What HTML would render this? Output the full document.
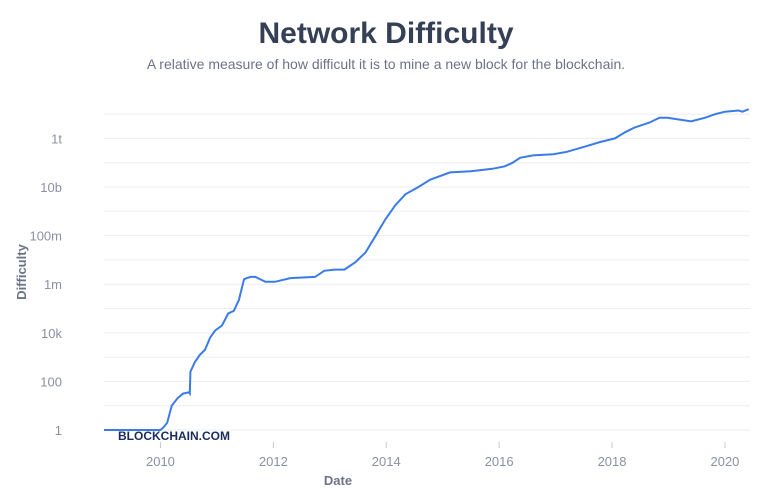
<!DOCTYPE html>
<html><head><meta charset="utf-8"><style>
body{margin:0;background:#fff;width:775px;height:489px;overflow:hidden;font-family:"Liberation Sans",sans-serif}
</style></head><body>
<svg width="775" height="489">
<text x="386" y="43" text-anchor="middle" font-size="30" font-weight="bold" fill="#353f55">Network Difficulty</text>
<text x="386" y="69" text-anchor="middle" font-size="14" fill="#6b7388">A relative measure of how difficult it is to mine a new block for the blockchain.</text>
<g id="grid"></g>
<g id="yt"></g>
<g id="xt"></g>
<text transform="translate(26,272) rotate(-90)" text-anchor="middle" font-size="13" font-weight="bold" fill="#6b7388">Difficulty</text>
<text x="338" y="485" text-anchor="middle" font-size="13" font-weight="bold" fill="#6b7388">Date</text>
<path id="line" fill="none" stroke="#3b7be8" stroke-width="2"/>
<text x="118" y="440" font-size="12" font-weight="bold" fill="#1b2c5c">BLOCKCHAIN.COM</text>
</svg>
<script>
const years=[2009.0,2010.0,2010.05,2010.12,2010.2,2010.3,2010.4,2010.5,2010.52,2010.53,2010.61,2010.7,2010.79,2010.88,2010.97,2011.09,2011.2,2011.3,2011.39,2011.48,2011.53,2011.6,2011.68,2011.86,2012.03,2012.3,2012.74,2012.9,2013.08,2013.26,2013.45,2013.63,2013.8,2013.98,2014.16,2014.34,2014.57,2014.78,2015.13,2015.5,2015.88,2016.1,2016.24,2016.37,2016.6,2016.96,2017.2,2017.5,2017.79,2018.05,2018.23,2018.4,2018.66,2018.84,2018.98,2019.4,2019.65,2019.83,2020.0,2020.24,2020.31,2020.42];
const logDiff=[0,0,0.1,0.3,1,1.3,1.5,1.55,1.5,2.4,2.8,3.1,3.3,3.8,4.1,4.3,4.8,4.9,5.35,6.2,6.25,6.3,6.3,6.1,6.1,6.25,6.3,6.55,6.6,6.6,6.9,7.3,7.95,8.65,9.25,9.7,10.0,10.3,10.6,10.65,10.75,10.85,11.0,11.2,11.3,11.35,11.45,11.65,11.85,12.0,12.25,12.45,12.65,12.85,12.85,12.7,12.85,13.0,13.1,13.15,13.1,13.2];
const yTicks=[0,2,4,6,8,10,12];
const yLabels=["1","100","10k","1m","100m","10b","1t"];
const xTicks=[2010,2012,2014,2016,2018,2020];
const NS="http://www.w3.org/2000/svg";
const X=y=>104+(y-2009)*56.45;
const Y=v=>430-v*24.3;
const grid=document.getElementById('grid'),yt=document.getElementById('yt'),xt=document.getElementById('xt');
for(let v=0;v<=13;v++){
 const l=document.createElementNS(NS,'line');
 
 
 l.setAttribute('x1',104);l.setAttribute('x2',750);l.setAttribute('y1',Y(v));l.setAttribute('y2',Y(v));
 l.setAttribute('stroke','#ebedf1');l.setAttribute('stroke-width','1');
 grid.appendChild(l);
}
yTicks.forEach((v,i)=>{
 const t=document.createElementNS(NS,'text');
 
 
 t.setAttribute('x',62);t.setAttribute('y',Y(v)+5);t.setAttribute('text-anchor','end');
 t.setAttribute('font-size','13');t.setAttribute('fill','#8a91a3');t.textContent=yLabels[i];
 yt.appendChild(t);
});
xTicks.forEach(y=>{
 const l=document.createElementNS(NS,'line');
 
 
 l.setAttribute('x1',X(y));l.setAttribute('x2',X(y));l.setAttribute('y1',442);l.setAttribute('y2',448);
 l.setAttribute('stroke','#c4c8d2');
 xt.appendChild(l);
 const t=document.createElementNS(NS,'text');
 
 
 t.setAttribute('x',X(y));t.setAttribute('y',466);t.setAttribute('text-anchor','middle');
 t.setAttribute('font-size','13');t.setAttribute('fill','#8a91a3');t.textContent=y;
 xt.appendChild(t);
});
document.getElementById('line').setAttribute('d',years.map((y,i)=>(i?'L':'M')+X(y).toFixed(1)+','+Y(logDiff[i]).toFixed(1)).join(''));
</script>
</body></html>
